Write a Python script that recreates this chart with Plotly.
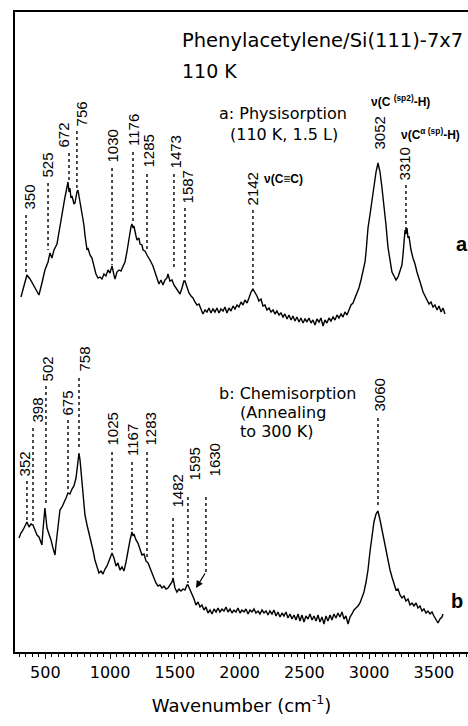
import plotly.graph_objects as go

# ---------------- data (wavenumber in cm-1, intensity in arb. units) ----------------
wn_a = [312, 335, 358, 382, 405, 428, 451, 474, 497, 521, 536, 551, 567, 590, 605, 621, 636, 652, 660, 667,
        675, 683, 690, 698, 706, 714, 721, 729, 737, 744, 752, 760, 768, 783, 798, 806, 814, 822, 829, 845,
        860, 876, 891, 907, 922, 937, 953, 968, 984, 999, 1015, 1030, 1038, 1053, 1069, 1084, 1100, 1115, 1130, 1146,
        1161, 1169, 1177, 1184, 1192, 1200, 1208, 1223, 1231, 1246, 1254, 1269, 1285, 1300, 1316, 1331, 1347, 1362, 1377, 1393,
        1408, 1424, 1439, 1447, 1462, 1478, 1493, 1509, 1524, 1540, 1555, 1570, 1578, 1594, 1609, 1625, 1640, 1655, 1671, 1686,
        1702, 1717, 1733, 1748, 1763, 1779, 1794, 1810, 1825, 1841, 1856, 1872, 1887, 1902, 1918, 1933, 1949, 1964, 1980, 1995,
        2011, 2026, 2041, 2057, 2072, 2088, 2103, 2119, 2134, 2149, 2165, 2180, 2196, 2211, 2227, 2242, 2258, 2273, 2288, 2304,
        2319, 2335, 2350, 2366, 2381, 2397, 2412, 2427, 2443, 2458, 2474, 2489, 2505, 2520, 2535, 2551, 2566, 2582, 2597, 2613,
        2628, 2644, 2659, 2674, 2690, 2705, 2721, 2736, 2752, 2767, 2783, 2798, 2813, 2829, 2844, 2860, 2875, 2891, 2906, 2921,
        2937, 2952, 2968, 2976, 2983, 2991, 3006, 3022, 3037, 3053, 3068, 3084, 3099, 3114, 3130, 3145, 3161, 3176, 3192, 3207,
        3223, 3238, 3253, 3261, 3269, 3277, 3284, 3292, 3300, 3307, 3315, 3323, 3338, 3354, 3369, 3385, 3400, 3416, 3431, 3446,
        3462, 3477, 3493, 3508, 3524, 3539, 3555, 3570, 3585]
int_a = [35.5, 36.7, 37.7, 37.3, 36.8, 36.2, 35.7, 36.9, 38.2, 39.0, 39.9, 39.4, 40.2, 40.8, 42.0, 43.4, 44.2, 45.5, 46.0, 46.5,
         47.0, 46.0, 46.4, 45.4, 45.6, 45.2, 44.8, 44.9, 45.6, 46.0, 46.2, 45.6, 45.2, 44.2, 42.7, 41.7, 40.6, 40.2, 40.4, 39.7,
         39.4, 38.6, 37.8, 37.4, 37.5, 37.3, 37.8, 37.6, 38.2, 37.9, 38.6, 37.7, 37.3, 38.0, 38.2, 38.1, 38.6, 39.0, 40.0, 41.4,
         42.5, 42.8, 42.4, 42.6, 41.9, 41.6, 41.2, 41.4, 40.8, 40.7, 40.2, 40.1, 39.7, 39.4, 39.0, 38.6, 38.0, 37.4, 36.8, 37.2,
         36.7, 37.2, 37.4, 37.8, 37.1, 37.2, 36.7, 36.4, 36.1, 35.8, 36.4, 37.1, 37.1, 36.4, 35.9, 35.6, 35.4, 35.0, 34.7, 34.8,
         34.2, 33.8, 34.2, 34.0, 34.4, 33.9, 34.3, 34.0, 34.4, 33.9, 34.3, 34.1, 34.5, 33.9, 34.4, 34.1, 34.6, 34.3, 34.7, 34.5,
         35.0, 34.7, 35.2, 34.9, 35.4, 36.0, 36.3, 36.0, 35.6, 35.1, 35.3, 34.6, 34.7, 34.2, 34.4, 34.0, 34.2, 33.8, 34.1, 33.7,
         33.9, 33.5, 33.8, 33.3, 33.7, 33.2, 33.6, 33.1, 33.5, 33.0, 33.4, 32.9, 33.3, 33.0, 33.4, 32.9, 33.2, 32.7, 33.3, 33.0,
         33.4, 32.6, 33.2, 32.9, 33.4, 33.1, 33.5, 33.2, 33.7, 33.4, 33.8, 33.5, 34.0, 33.7, 34.3, 34.7, 34.9, 35.4, 35.8, 36.4,
         37.2, 38.0, 39.0, 40.0, 41.2, 42.4, 43.7, 45.2, 46.7, 48.0, 48.9, 48.0, 46.4, 44.7, 42.7, 40.5, 39.0, 38.0, 37.6, 37.2,
         37.5, 38.0, 38.7, 39.7, 41.2, 42.2, 41.8, 42.4, 41.4, 41.6, 40.9, 40.2, 39.4, 38.8, 38.0, 37.4, 36.7, 36.0, 35.6, 35.2,
         34.8, 35.0, 34.5, 34.7, 34.2, 34.6, 34.0, 34.4, 33.8]

wn_b = [297, 312, 328, 343, 358, 374, 389, 405, 420, 436, 451, 467, 474, 482, 490, 497, 505, 513, 528, 544,
        559, 575, 582, 598, 613, 629, 644, 660, 675, 690, 706, 721, 737, 744, 752, 760, 768, 775, 783, 791,
        806, 822, 837, 853, 868, 883, 899, 914, 930, 945, 961, 976, 991, 1007, 1015, 1030, 1046, 1061, 1076, 1092,
        1107, 1123, 1138, 1154, 1169, 1177, 1184, 1200, 1215, 1231, 1246, 1262, 1277, 1293, 1308, 1323, 1339, 1354, 1370, 1385,
        1401, 1416, 1432, 1447, 1462, 1478, 1486, 1501, 1516, 1532, 1547, 1563, 1578, 1594, 1601, 1617, 1632, 1648, 1663, 1679,
        1694, 1709, 1725, 1740, 1756, 1771, 1787, 1802, 1818, 1833, 1848, 1864, 1879, 1895, 1910, 1926, 1941, 1956, 1972, 1987,
        2003, 2018, 2034, 2049, 2065, 2080, 2095, 2111, 2126, 2142, 2157, 2173, 2188, 2204, 2219, 2234, 2250, 2265, 2281, 2296,
        2312, 2327, 2342, 2358, 2373, 2389, 2404, 2420, 2435, 2451, 2466, 2481, 2497, 2512, 2528, 2543, 2559, 2574, 2590, 2605,
        2620, 2636, 2651, 2667, 2682, 2698, 2713, 2728, 2744, 2759, 2775, 2790, 2806, 2821, 2837, 2852, 2867, 2883, 2898, 2914,
        2929, 2945, 2960, 2976, 2991, 3006, 3022, 3037, 3053, 3068, 3084, 3099, 3114, 3130, 3145, 3161, 3176, 3192, 3207, 3223,
        3238, 3253, 3269, 3284, 3300, 3315, 3331, 3346, 3362, 3377, 3392, 3408, 3423, 3439, 3454, 3470, 3485, 3500, 3516, 3531,
        3547, 3562, 3570]
int_b = [11.4, 11.9, 12.2, 12.6, 13.0, 12.5, 12.8, 12.7, 12.2, 11.7, 11.5, 11.0, 10.7, 12.2, 13.7, 14.4, 13.4, 12.4, 11.8, 11.2,
         10.4, 9.7, 10.7, 12.7, 14.2, 14.5, 14.9, 15.4, 15.9, 15.8, 16.3, 16.6, 17.4, 18.4, 19.4, 19.9, 19.2, 18.0, 17.2, 16.2,
         13.7, 12.7, 11.9, 11.2, 10.2, 9.2, 8.4, 7.9, 8.1, 7.8, 8.3, 8.6, 9.1, 9.6, 9.9, 9.4, 8.6, 8.9, 8.2, 8.5,
         8.1, 9.0, 10.2, 11.2, 12.0, 11.6, 11.8, 11.2, 10.9, 10.2, 9.7, 9.8, 9.1, 8.9, 8.4, 7.9, 7.5, 6.9, 6.6, 6.7,
         6.4, 6.6, 6.3, 6.4, 6.7, 7.0, 7.4, 6.4, 6.0, 6.3, 6.1, 6.3, 6.2, 6.7, 6.7, 6.2, 5.9, 5.3, 4.7, 5.0,
         4.5, 4.7, 4.2, 4.5, 3.9, 4.2, 3.8, 4.3, 4.0, 4.4, 4.0, 4.3, 4.1, 4.5, 4.0, 4.3, 3.9, 4.2, 4.0, 4.4,
         3.9, 4.2, 4.0, 4.3, 3.8, 4.2, 4.0, 4.3, 3.9, 4.1, 3.8, 4.2, 3.9, 4.1, 3.7, 4.1, 3.8, 4.2, 3.6, 4.0,
         3.5, 3.9, 3.6, 4.0, 3.4, 3.8, 3.3, 3.7, 3.2, 3.8, 3.1, 3.7, 3.0, 3.6, 3.3, 3.8, 3.2, 3.6, 3.1, 3.7,
         3.0, 3.5, 2.8, 3.6, 3.1, 3.7, 3.2, 3.8, 3.4, 3.9, 3.5, 4.0, 3.3, 3.6, 2.8, 3.5, 3.8, 4.2, 4.4, 4.6,
         4.9, 5.4, 6.0, 7.0, 8.2, 10.0, 11.5, 13.0, 13.8, 14.1, 13.2, 12.2, 11.4, 10.4, 9.4, 8.2, 7.5, 6.7, 6.2, 6.3,
         5.7, 5.4, 5.6, 5.1, 5.3, 4.7, 4.9, 4.6, 4.9, 4.4, 4.6, 4.1, 4.3, 3.9, 4.1, 3.8, 4.0, 3.6, 3.2, 2.9,
         3.3, 3.5, 3.8]

# peak labels: label text, dotted-line position, label base, line top/bottom
peaks_a_text = ["350", "525", "672", "756", "1030", "1176", "1285", "1473", "1587", "2142", "3052", "3310"]
peaks_a_x = [351, 521, 683, 744, 1015, 1177, 1285, 1493, 1578, 2103, 3084, 3284]
peaks_a_base = [44.0, 47.2, 50.2, 52.4, 48.7, 50.4, 48.2, 48.2, 44.7, 44.5, 50.0, 47.0]
peaks_a_top = [43.7, 46.9, 49.9, 52.1, 48.4, 50.0, 47.8, 47.8, 44.4, 44.2, None, 46.7]
peaks_a_low = [37.9, 40.2, 47.2, 46.4, 38.7, 43.0, 40.2, 38.2, 37.4, 36.7, None, 42.2]

peaks_b_text = ["352", "398", "502", "675", "758", "1025", "1167", "1283", "1482", "1595", "1630", "3060"]
peaks_b_x = [358, 405, 505, 675, 760, 1015, 1169, 1285, 1486, 1601, 1740, 3068]
peaks_b_base = [17.4, 22.7, 26.9, 23.5, 27.9, 20.4, 19.4, 20.4, 14.2, 17.0, 17.4, 23.9]
peaks_b_top = [17.1, 22.4, 26.6, 23.2, 27.4, 20.0, 19.0, 20.0, 13.4, 15.5, 15.5, 23.4]
peaks_b_low = [13.2, 13.0, 14.7, 16.2, 20.2, 10.2, 12.2, 9.2, 7.4, 6.9, 8.0, 14.4]
arrow_1630_to = (1663, 6.4)

x_ticks = [500, 1000, 1500, 2000, 2500, 3000, 3500]

# ---------------- styles ----------------
NUM_FONT = "Liberation Sans, Arial, sans-serif"
TXT_FONT = "DejaVu Sans, sans-serif"
text_dx_a = [3, -1, -6, 5, 0, 0, 1, 2, 3, 0, -1, -1]
text_dx_b = [-2, 4, 2, 0, 6, 0, 0, 3, 4, 7, 9, 2]

W, H = 468, 726

fig = go.Figure()
fig.add_trace(go.Scatter(x=wn_a, y=int_a, mode="lines", line=dict(color="black", width=1.4),
                         showlegend=False, hoverinfo="skip"))
fig.add_trace(go.Scatter(x=wn_b, y=int_b, mode="lines", line=dict(color="black", width=1.4),
                         showlegend=False, hoverinfo="skip"))

# dotted guide lines
dx, dy = [], []
for xs, tops, lows in ((peaks_a_x, peaks_a_top, peaks_a_low), (peaks_b_x, peaks_b_top, peaks_b_low)):
    for xv, t, l in zip(xs, tops, lows):
        if t is None or l is None:
            continue
        dx += [xv, xv, None]
        dy += [t, l, None]
fig.add_trace(go.Scatter(x=dx, y=dy, mode="lines", line=dict(color="black", width=1.4, dash="dot"),
                         showlegend=False, hoverinfo="skip"))

annotations = []
for texts, xs, bases, dxs in ((peaks_a_text, peaks_a_x, peaks_a_base, text_dx_a),
                              (peaks_b_text, peaks_b_x, peaks_b_base, text_dx_b)):
    for t, xv, b, s in zip(texts, xs, bases, dxs):
        annotations.append(dict(x=xv, y=b, xref="x", yref="y", text=t, textangle=-90,
                                showarrow=False, xanchor="center", yanchor="bottom", xshift=s,
                                font=dict(family=NUM_FONT, size=15, color="black")))

# arrow for 1630
annotations.append(dict(x=arrow_1630_to[0], y=arrow_1630_to[1], ax=peaks_b_x[10], ay=peaks_b_low[10],
                        xref="x", yref="y", axref="x", ayref="y", text="", showarrow=True,
                        arrowhead=2, arrowsize=1.2, arrowwidth=1.2, arrowcolor="black"))


def ptxt(px, py, text, size, bold=False, family=TXT_FONT, anchor="left"):
    annotations.append(dict(x=(px - 15) / 453.0, y=(652 - py) / 640.0, xref="paper", yref="paper",
                            text=("<b>%s</b>" % text) if bold else text, showarrow=False,
                            xanchor=anchor, yanchor="middle",
                            font=dict(family=family, size=size, color="black")))


ptxt(180, 41, "Phenylacetylene/Si(111)-7x7", 19.5)
ptxt(180, 71, "110 K", 19)
ptxt(217, 113, "a: Physisorption", 16)
ptxt(228, 134, "(110 K, 1.5 L)", 16)
ptxt(217, 393, "b: Chemisorption", 16)
ptxt(238, 412, "(Annealing", 16)
ptxt(238, 431, "to 300 K)", 16)
ptxt(369, 101, "ν(C <sup>(sp2)</sup>-H)", 12, bold=True, family=NUM_FONT)
ptxt(399, 134, "ν(C<sup>α (sp)</sup>-H)", 12, bold=True, family=NUM_FONT)
ptxt(262, 179, "ν(C≡C)", 12, bold=True, family=NUM_FONT)
ptxt(462, 244, "a", 20, bold=True, family=NUM_FONT, anchor="center")
ptxt(457, 601, "b", 20, bold=True, family=NUM_FONT, anchor="center")

fig.update_layout(
    width=W, height=H,
    margin=dict(l=15, r=0, t=12, b=74, autoexpand=False),
    paper_bgcolor="white", plot_bgcolor="white",
    annotations=annotations,
    xaxis=dict(range=[266, 3763], tickmode="array", tickvals=x_ticks, ticktext=[str(v) for v in x_ticks],
               ticks="outside", ticklen=5, tickwidth=1.2, tickcolor="black",
               minor=dict(dtick=50, tick0=0, ticks="outside", ticklen=3, tickwidth=1, tickcolor="black"),
               showline=True, linecolor="black", linewidth=1.8, mirror=True,
               showgrid=False, zeroline=False, automargin=False,
               tickfont=dict(family=TXT_FONT, size=16, color="black"),
               title=dict(text="Wavenumber (cm<sup>-1</sup>)", standoff=18,
                          font=dict(family=TXT_FONT, size=18, color="black"))),
    yaxis=dict(range=[0, 64], showline=True, linecolor="black", linewidth=1.8, showticklabels=False,
               ticks="", showgrid=False, zeroline=False, automargin=False),
)

# remove the default page margin so the figure fills the window exactly
fig.write_html("out.html", config={"displayModeBar": False},
               post_script="document.body.style.margin='0';document.body.style.overflow='hidden';")
